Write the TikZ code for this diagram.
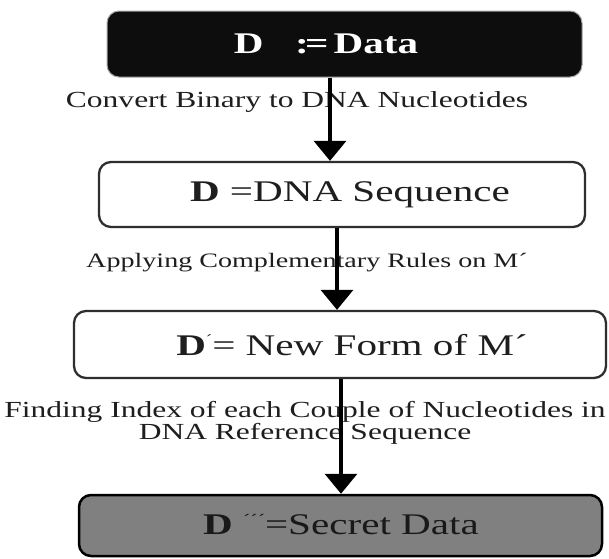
\documentclass[tikz,border=0pt]{standalone}
\usepackage{fontspec}
\setmainfont{Liberation Serif}[FakeStretch=1.37]
\usetikzlibrary{arrows.meta}
\definecolor{ink}{HTML}{1E1E1E}
\definecolor{boxdark}{HTML}{0D0D0D}
\definecolor{boxgray}{HTML}{808080}
\definecolor{edge}{HTML}{2E2E2E}
\begin{document}
\begin{tikzpicture}[x=1pt,y=-1pt,
  stage/.style={draw=edge, line width=2.3pt, rounded corners=12pt, inner sep=0pt},
  boxtext/.style={inner sep=0pt, text=ink, font=\fontsize{30}{32}\selectfont},
  steptext/.style={inner sep=0pt, text=ink, align=center, font=\fontsize{23}{21}\selectfont},
  flow/.style={line width=3.4pt, draw=black, -{Triangle[width=32pt,length=20pt]}},
]
\fill[white] (0,0) rectangle (609,558);
\useasboundingbox (0,0) rectangle (609,558);

% stages
\node[stage, draw=gray!70, line width=1pt, fill=boxdark, minimum width=475pt, minimum height=66pt] (b1) at (344.5,44) {};
\node[stage, fill=white, minimum width=486pt, minimum height=65pt] (b2) at (342,194.5) {};
\node[stage, fill=white, minimum width=532pt, minimum height=67pt] (b3) at (340,344.5) {};
\node[stage, draw=black, line width=2.5pt, fill=boxgray, minimum width=523pt, minimum height=61pt] (b4) at (340.5,525.5) {};

% stage captions
\node[boxtext, text=white, font=\fontsize{30}{32}\selectfont\bfseries] (t1) at (326,44) {D\hspace{1.05em}:\kern-0.12em=\,Data};
\node[boxtext] (t2) at (350,195) {\textbf{D} =DNA Sequence};
\node[boxtext] (t3) at (352,345) {\textbf{D}\raisebox{0.35em}{\fontsize{14}{14}\selectfont ´}= New Form of M´};
\node[boxtext, text=black!90] (t4) at (341,525) {\textbf{D}\ \raisebox{0.3em}{\fontsize{16}{16}\selectfont ´´´}=Secret Data};

% step descriptions
\node[steptext] (l1) at (297,102) {Convert Binary to DNA Nucleotides};
\node[steptext, font=\fontsize{20.5}{21}\selectfont] (l2) at (307,263) {Applying Complementary Rules on M´};
\node[steptext] (l3) at (305,423) {Finding Index of each Couple of Nucleotides in\\DNA Reference Sequence};

% flow arrows
\draw[flow] ([xshift=-14.5pt]b1.south) -- ([xshift=-14.5pt]b1.south |- b2.north);
\draw[flow] ([xshift=-5pt]b2.south) -- ([xshift=-5pt]b2.south |- b3.north);
\draw[flow] ([xshift=1pt]b3.south) -- ([xshift=1pt]b3.south |- b4.north);
\end{tikzpicture}
\end{document}
